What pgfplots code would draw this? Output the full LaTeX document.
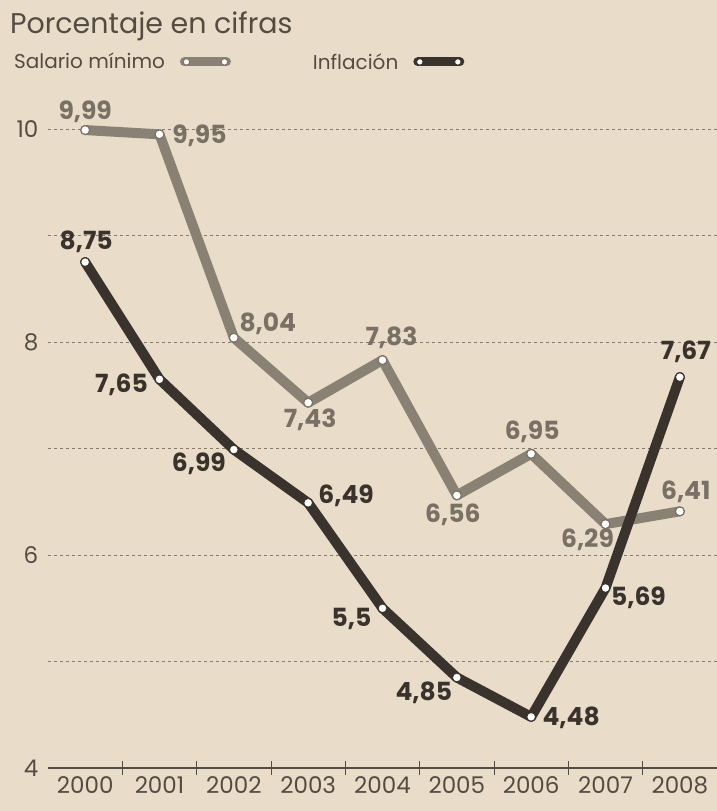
\documentclass[border=0pt]{standalone}
\usepackage{pgfplots}
\pgfplotsset{compat=1.18}
\usepackage{pgfplotstable}
\usepackage{fontspec}
\setmainfont{Poppins}
\definecolor{paper}{HTML}{E9DCC9}
\definecolor{sal}{HTML}{8A8175}
\definecolor{salt}{HTML}{7A7166}
\definecolor{inf}{HTML}{3A332D}
\definecolor{txt}{HTML}{544B43}
\definecolor{gridc}{HTML}{857A6E}

\pgfplotstableread{
x y lab dx dy
0 9.99 9,99 0 18
1 9.95 9,95 40 -1
2 8.04 8,04 34 14
3 7.43 7,43 2 -17
4 7.83 7,83 9 22
5 6.56 6,56 -4 -19
6 6.95 6,95 1 22
7 6.29 6,29 -18 -16
8 6.41 6,41 6 20
}\salario

\pgfplotstableread{
x y lab dx dy
0 8.75 8,75 1 20
1 7.65 7,65 -38 -6
2 6.99 6,99 -35 -14
3 6.49 6,49 38 7
4 5.5 5,5 -31 -11
5 4.85 4,85 -33 -15
6 4.48 4,48 40 -1
7 5.69 5,69 33 -10
8 7.67 7,67 6 25
}\inflacion

\begin{document}
\begin{tikzpicture}[x=1pt,y=1pt]
\fill[paper] (0,0) rectangle (717,811);
\useasboundingbox (0,0) rectangle (717,811);
\begin{axis}[
  at={(48pt,43pt)}, anchor=south west,
  scale only axis, width=669pt, height=639pt,
  xmin=-0.5, xmax=8.5, ymin=4, ymax=10,
  clip=false,
  axis line style={draw=none},
  /pgf/number format/assume math mode=true,
  xtick={0,...,8},
  xticklabels={2000,2001,2002,2003,2004,2005,2006,2007,2008},
  minor xtick={0.5,1.5,...,7.5},
  xtick pos=bottom,
  major x tick style={draw=none},
  minor x tick style={draw=txt, line width=1pt},
  minor tick length=14pt,
  tick align=center,
  xticklabel style={font=\fontsize{23}{26}\selectfont, text=txt, anchor=north, yshift=-3pt},
  ytick={6,8,10},
  minor ytick={5,7,9},
  extra y ticks={4},
  extra y tick style={grid=major, major grid style={solid, draw=txt, line width=1.3pt}},
  ytick style={draw=none},
  yticklabel style={font=\fontsize{23}{26}\selectfont, text=txt, xshift=-4pt},
  ymajorgrids, yminorgrids,
  major grid style={draw=gridc, line width=0.9pt, dash pattern=on 3pt off 3pt},
  minor grid style={draw=gridc, line width=0.9pt, dash pattern=on 3pt off 3pt},
  title={Porcentaje en cifras},
  title style={at={(axis description cs:-0.057,1.152)}, anchor=west, font=\fontsize{28.5}{32}\selectfont, text=txt, inner sep=0pt},
  legend style={at={(axis description cs:-0.054,1.105)}, anchor=west, draw=none, fill=none,
    font=\fontsize{20}{23}\selectfont, text=txt, inner sep=0pt,
    /tikz/every odd column/.append style={column sep=13pt},
    /tikz/every even column/.append style={column sep=80pt}},
  legend columns=2,
  legend plot pos=right,
]
\addplot[sal, line width=10pt, line join=round, line cap=round,
  mark=*, mark size=4.5pt, mark options={fill=white, draw=salt, line width=1.2pt},
  nodes near coords, point meta=explicit symbolic,
  visualization depends on={\thisrow{dx} \as \ldx},
  visualization depends on={\thisrow{dy} \as \ldy},
  every node near coord/.append style={anchor=center, xshift=\ldx pt, yshift=\ldy pt,
     font=\fontsize{25}{28}\selectfont\bfseries, text=salt, inner sep=0pt},
  legend image code/.code={
    \draw[sal, line width=9pt] (0pt,0pt) -- (42pt,0pt);
    \draw[salt, fill=white, line width=1pt] (2pt,0pt) circle (3.3pt) (40pt,0pt) circle (3.3pt);
  },
] table[x=x, y=y, meta=lab] {\salario};
\addlegendentry{Salario mínimo}
\addplot[inf, line width=10pt, line join=round, line cap=round,
  mark=*, mark size=4.5pt, mark options={fill=white, draw=inf, line width=1.2pt},
  nodes near coords, point meta=explicit symbolic,
  visualization depends on={\thisrow{dx} \as \ldx},
  visualization depends on={\thisrow{dy} \as \ldy},
  every node near coord/.append style={anchor=center, xshift=\ldx pt, yshift=\ldy pt,
     font=\fontsize{25}{28}\selectfont\bfseries, text=inf, inner sep=0pt},
  legend image code/.code={
    \draw[inf, line width=9pt] (0pt,0pt) -- (42pt,0pt);
    \draw[inf, fill=white, line width=1pt] (2pt,0pt) circle (3.3pt) (40pt,0pt) circle (3.3pt);
  },
] table[x=x, y=y, meta=lab] {\inflacion};
\addlegendentry{Inflación}
\end{axis}
\end{tikzpicture}
\end{document}
